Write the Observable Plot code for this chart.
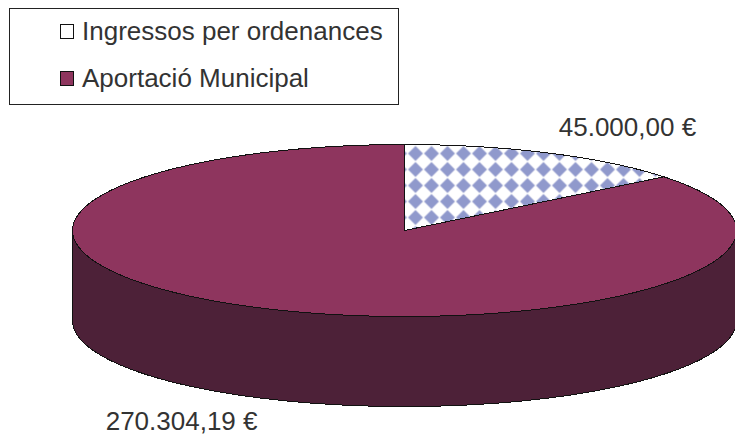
<!DOCTYPE html>
<html>
<head>
<meta charset="utf-8">
<script src="https://cdn.jsdelivr.net/npm/d3@7"></script>
<script src="https://cdn.jsdelivr.net/npm/@observablehq/plot@0.6"></script>
<style>
  html, body { margin: 0; padding: 0; background: #fff; }
  #wrap { position: relative; width: 735px; height: 435px; overflow: hidden; font-family: "Liberation Sans", Arial, sans-serif; }
  #wrap svg { display: block; }
  #legend { position: absolute; left: 9px; top: 8px; width: 388px; height: 95px; border: 1.5px solid #222; background: #fff; box-sizing: content-box; }
  .item { position: absolute; left: 50px; display: flex; align-items: center; color: #333; font-size: 26px; line-height: 30px; letter-spacing: 0; white-space: nowrap; }
  .swatch { width: 12px; height: 13px; border: 1.5px solid #111; margin-right: 8px; }
</style>
</head>
<body>
<div id="wrap"></div>
<script>
const categories = ["Ingressos per ordenances", "Aportació Municipal"];
const values = [45000.00, 270304.19];
const valueLabels = ["45.000,00 €", "270.304,19 €"];
const topColors = ["url(#diamonds)", "#8E355E"];
const sideColor = "#4D2138";
const swatchColors = ["#ffffff", "#8E355E"];

const depth = 1.047;
const arcs = d3.pie().sort(null)(values);
const point = (t, drop = 0, id) => ({x: Math.sin(t), y: Math.cos(t) - drop, id});
const arcPts = (a, b, drop, id) => {
  const n = Math.max(2, Math.ceil(Math.abs(b - a) * 60));
  return d3.range(n + 1).map(i => point(a + (b - a) * i / n, drop, id));
};
const slices = arcs.map((d, i) => {
  const p = [{x: 0, y: 0, id: i}, ...arcPts(d.startAngle, d.endAngle, 0, i), {x: 0, y: 0, id: i}];
  return p;
});
const wall = [
  ...arcPts(Math.PI / 2, 3 * Math.PI / 2, 0, "w"),
  ...arcPts(3 * Math.PI / 2, Math.PI / 2, depth, "w")
];
wall.push(wall[0]);

const labelRows = arcs.map((d, i) => {
  const mid = (d.startAngle + d.endAngle) / 2;
  const front = Math.cos(mid) < 0;
  return {...point(mid, front ? depth : 0), text: valueLabels[i]};
});

const poly = (data, fill) => Plot.line(data, {
  x: "x", y: "y", fill, stroke: "#111", strokeWidth: 1, curve: "linear", strokeLinejoin: "miter", shapeRendering: "crispEdges"
});

const labelStyle = {x: "x", y: "y", text: "text", fontSize: 26, fill: "#333", fontFamily: "Liberation Sans", letterSpacing: "0.35px"};

const plot = Plot.plot({
  width: 735, height: 435,
  margin: 0,
  style: {background: "#fff"},
  x: {domain: [-1, 1], range: [72, 736], axis: null},
  y: {domain: [1, -1], range: [144, 316], axis: null},
  marks: [
    poly(wall, sideColor),
    poly(slices[1], topColors[1]),
    poly(slices[0], topColors[0]),
    Plot.text([labelRows[0]], {...labelStyle, dx: 79, dy: -25}),
    Plot.text([labelRows[1]], {...labelStyle, dx: -79, dy: 24})
  ]
});

const defs = d3.select(plot).insert("defs", ":first-child");
const pat = defs.append("pattern").attr("id", "diamonds").attr("patternUnits", "userSpaceOnUse")
  .attr("x", 7).attr("y", 1).attr("width", 16).attr("height", 16);
pat.append("rect").attr("width", 16).attr("height", 16).attr("fill", "#fff");
pat.append("path").attr("d", "M8 0.5L15.5 8L8 15.5L0.5 8Z").attr("fill", "#9099CC");

const wrap = document.getElementById("wrap");
wrap.appendChild(plot);
const legend = document.createElement("div");
legend.id = "legend";
categories.forEach((c, i) => {
  const it = document.createElement("div");
  it.className = "item";
  it.style.top = (i === 0 ? 7 : 54) + "px";
  const sw = document.createElement("span");
  sw.className = "swatch";
  sw.style.background = swatchColors[i];
  it.appendChild(sw);
  it.appendChild(document.createTextNode(c));
  legend.appendChild(it);
});
wrap.appendChild(legend);
</script>
</body>
</html>
